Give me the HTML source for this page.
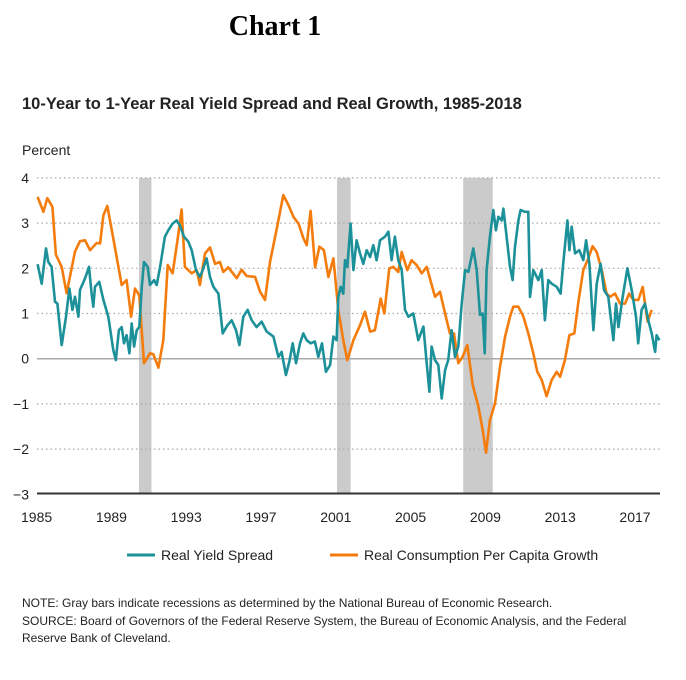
<!DOCTYPE html>
<html><head><meta charset="utf-8"><style>
body{margin:0;background:#fff;width:686px;height:675px;overflow:hidden;font-family:"Liberation Sans",sans-serif}
</style></head><body>
<svg width="686" height="675" xmlns="http://www.w3.org/2000/svg">
<text x="275" y="35" text-anchor="middle" font-family="Liberation Serif" font-weight="bold" font-size="28">Chart 1</text>
<text x="22" y="109" font-weight="bold" font-size="16.5" fill="#222">10-Year to 1-Year Real Yield Spread and Real Growth, 1985-2018</text>
<text x="22" y="155" font-size="14" fill="#222">Percent</text>
<g id="rec"></g>
<g id="grid"></g>
<g id="yt"></g>
<g id="xt"></g>
<g id="series"></g>
<line x1="37" y1="493.5" x2="660" y2="493.5" stroke="#333" stroke-width="2"/>
<g>
<line x1="127" y1="555" x2="155" y2="555" stroke="#1c9199" stroke-width="3"/>
<text x="161" y="560" font-size="14" fill="#222">Real Yield Spread</text>
<line x1="330" y1="555" x2="358" y2="555" stroke="#f47c0c" stroke-width="3"/>
<text x="364" y="560" font-size="14" fill="#222">Real Consumption Per Capita Growth</text>
</g>
<g font-size="12" fill="#222">
<text x="22" y="607">NOTE: Gray bars indicate recessions as determined by the National Bureau of Economic Research.</text>
<text x="22" y="625">SOURCE: Board of Governors of the Federal Reserve System, the Bureau of Economic Analysis, and the Federal</text>
<text x="22" y="642">Reserve Bank of Cleveland.</text>
</g>
</svg>
<script>
const yTicks=[4,3,2,1,0,-1,-2,-3];
const yTickLabels=["4","3","2","1","0","\u22121","\u22122","\u22123"];
const xTicks=[1985,1989,1993,1997,2001,2005,2009,2013,2017];
const recStart=[1990.58,2001.17,2007.92];
const recEnd=[1991.25,2001.9,2009.5];
const spreadYears=[1985.16,1985.38,1985.61,1985.73,1985.91,1986.09,1986.22,1986.45,1986.68,1986.86,1987.02,1987.16,1987.34,1987.43,1987.7,1987.91,1988.05,1988.14,1988.23,1988.46,1988.68,1988.94,1989.21,1989.34,1989.51,1989.66,1989.78,1989.92,1990.07,1990.19,1990.32,1990.46,1990.6,1990.73,1990.85,1991.05,1991.17,1991.39,1991.53,1991.71,1991.97,1992.15,1992.38,1992.6,1992.77,1992.99,1993.22,1993.4,1993.63,1993.84,1993.99,1994.2,1994.38,1994.56,1994.83,1995.06,1995.31,1995.54,1995.77,1995.95,1996.16,1996.39,1996.61,1996.87,1997.14,1997.41,1997.77,1998.04,1998.21,1998.44,1998.62,1998.8,1998.98,1999.19,1999.37,1999.55,1999.76,1999.99,2000.17,2000.37,2000.58,2000.8,2000.98,2001.15,2001.24,2001.37,2001.51,2001.6,2001.72,2001.9,2002.05,2002.22,2002.4,2002.58,2002.76,2002.94,2003.11,2003.29,2003.47,2003.74,2003.92,2004.09,2004.27,2004.45,2004.63,2004.81,2004.99,2005.25,2005.52,2005.79,2005.97,2006.11,2006.23,2006.41,2006.59,2006.77,2006.95,2007.12,2007.3,2007.48,2007.66,2007.84,2008.02,2008.2,2008.46,2008.64,2008.82,2008.96,2009.07,2009.17,2009.35,2009.53,2009.67,2009.8,2009.98,2010.07,2010.24,2010.42,2010.56,2010.69,2010.87,2010.99,2011.22,2011.4,2011.49,2011.67,2011.94,2012.12,2012.29,2012.47,2012.65,2012.92,2013.13,2013.27,2013.49,2013.6,2013.72,2013.9,2014.13,2014.34,2014.49,2014.67,2014.88,2015.06,2015.27,2015.45,2015.68,2015.95,2016.09,2016.22,2016.45,2016.7,2016.93,2017.16,2017.28,2017.46,2017.64,2017.82,2018.0,2018.18,2018.26,2018.41];
const spreadValues=[2.09,1.66,2.44,2.14,2.03,1.26,1.22,0.3,0.93,1.55,1.08,1.37,0.93,1.52,1.78,2.03,1.44,1.15,1.59,1.7,1.3,0.93,0.19,-0.03,0.63,0.7,0.34,0.52,0.12,0.78,0.27,0.63,0.7,1.59,2.14,2.03,1.63,1.74,1.63,2.03,2.7,2.84,2.99,3.06,2.95,2.7,2.59,2.4,1.96,1.81,1.96,2.22,1.81,1.59,1.44,0.56,0.74,0.85,0.63,0.3,0.93,1.08,0.85,0.7,0.82,0.6,0.49,0.04,0.15,-0.36,-0.07,0.34,-0.1,0.34,0.56,0.41,0.34,0.38,0.04,0.34,-0.29,-0.14,0.49,0.41,1.37,1.59,1.44,2.18,2.03,2.99,1.96,2.62,2.33,2.1,2.4,2.25,2.51,2.18,2.62,2.7,2.81,2.18,2.7,2.18,1.96,1.08,0.93,1.0,0.41,0.71,-0.1,-0.73,0.27,-0.03,-0.14,-0.88,-0.25,-0.03,0.63,0.04,0.27,1.22,1.96,1.92,2.44,1.96,0.97,1.0,0.12,1.96,2.7,3.29,2.84,3.14,3.06,3.32,2.7,2.03,1.74,2.48,3.06,3.29,3.25,3.25,1.37,1.96,1.74,1.96,0.85,1.74,1.66,1.59,1.44,2.1,3.06,2.4,2.92,2.33,2.4,2.18,2.62,2.1,0.63,1.66,2.1,1.52,1.37,0.41,1.22,0.7,1.37,2.0,1.52,0.93,0.34,1.08,1.22,0.85,0.56,0.15,0.52,0.41];
const consYears=[1985.16,1985.47,1985.68,1985.95,1986.14,1986.45,1986.71,1987.16,1987.43,1987.7,1987.96,1988.32,1988.5,1988.68,1988.89,1989.21,1989.66,1989.92,1990.16,1990.37,1990.6,1990.85,1991.17,1991.35,1991.62,1991.88,1992.12,1992.38,1992.63,1992.86,1993.04,1993.4,1993.67,1993.84,1994.11,1994.38,1994.65,1994.91,1995.09,1995.36,1995.81,1996.07,1996.34,1996.79,1997.06,1997.32,1997.59,1997.95,1998.3,1998.57,1998.84,1999.11,1999.38,1999.55,1999.76,2000.0,2000.23,2000.47,2000.71,2000.98,2001.24,2001.51,2001.72,2002.05,2002.4,2002.67,2002.94,2003.2,2003.51,2003.7,2003.97,2004.18,2004.45,2004.63,2004.93,2005.16,2005.43,2005.7,2005.97,2006.41,2006.68,2006.95,2007.21,2007.43,2007.66,2007.89,2008.14,2008.43,2008.73,2008.96,2009.14,2009.35,2009.62,2009.89,2010.16,2010.42,2010.6,2010.87,2011.14,2011.4,2011.67,2011.88,2012.12,2012.38,2012.65,2012.92,2013.1,2013.36,2013.6,2013.86,2014.08,2014.34,2014.61,2014.84,2015.06,2015.33,2015.59,2015.77,2016.04,2016.31,2016.57,2016.79,2017.02,2017.29,2017.52,2017.64,2017.78,2018.0];
const consValues=[3.58,3.25,3.55,3.36,2.3,2.03,1.45,2.37,2.6,2.62,2.4,2.56,2.55,3.17,3.38,2.66,1.63,1.74,0.93,1.55,1.4,-0.1,0.12,0.1,-0.2,0.41,2.07,1.89,2.59,3.3,2.03,1.89,1.96,1.63,2.33,2.46,2.1,2.14,1.92,2.02,1.78,1.97,1.83,1.81,1.48,1.3,2.14,2.88,3.62,3.4,3.14,2.99,2.66,2.51,3.27,2.02,2.48,2.4,1.81,2.22,1.08,0.41,-0.03,0.41,0.74,1.04,0.6,0.63,1.33,1.0,2.0,2.03,1.92,2.36,1.96,2.18,2.07,1.89,2.03,1.37,1.48,1.0,0.56,0.56,-0.1,0.04,0.3,-0.58,-1.06,-1.58,-2.08,-1.36,-0.99,-0.18,0.49,0.93,1.15,1.15,0.93,0.56,0.12,-0.29,-0.47,-0.83,-0.47,-0.29,-0.4,-0.03,0.52,0.56,1.26,1.96,2.22,2.49,2.36,1.96,1.44,1.37,1.44,1.22,1.22,1.44,1.3,1.3,1.59,1.22,0.82,1.08];

const NS="http://www.w3.org/2000/svg";
function X(yr){return 34.6+(yr-1985)*18.7;}
function Y(v){return 358.7-45.2*v;}
function mk(tag,attrs,parent){const e=document.createElementNS(NS,tag);for(const k in attrs)e.setAttribute(k,attrs[k]);document.getElementById(parent).appendChild(e);return e;}

recStart.forEach((s,i)=>{
  const r=mk('rect',{x:X(s),y:Y(4),width:X(recEnd[i])-X(s),height:Y(-3)-Y(4),fill:'#cbcbcb'},'rec');
  
  
});
yTicks.forEach((v,i)=>{
  if(v!==0&&v!==-3){
    const l=mk('line',{x1:37,x2:660,y1:Y(v),y2:Y(v),stroke:'#aaa','stroke-width':1.2,'stroke-dasharray':'1.5 3'},'grid');
    
    
  }
  const t=mk('text',{x:29,y:Y(v)+5,'text-anchor':'end','font-size':14,fill:'#222'},'yt');
  t.textContent=yTickLabels[i];
  
  
});
const z=mk('line',{x1:37,x2:660,y1:Y(0),y2:Y(0),stroke:'#aaa','stroke-width':1.5},'grid');


xTicks.forEach(yr=>{
  const t=mk('text',{x:X(yr)+2,y:522,'text-anchor':'middle','font-size':14,fill:'#222'},'xt');
  t.textContent=String(yr);
  
  
});
function line(xs,vs,color,name){
  const d=xs.map((yr,i)=>(i?'L':'M')+X(yr).toFixed(1)+','+Y(vs[i]).toFixed(1)).join('');
  const p=mk('path',{d:d,fill:'none',stroke:color,'stroke-width':2.6,'stroke-linejoin':'round'},'series');
  
  
}
line(consYears,consValues,'#f47c0c','consumption-growth-line');
line(spreadYears,spreadValues,'#1c9199','real-yield-spread-line');
</script>
</body></html>
